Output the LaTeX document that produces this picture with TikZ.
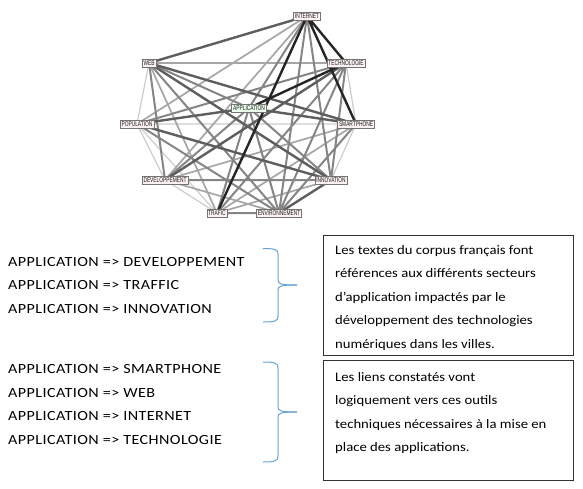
\documentclass[tikz,border=0pt]{standalone}
\usepackage{fontspec}
\setmainfont{Carlito}[FakeStretch=1.13]
\newfontfamily\capsfont{Carlito}[FakeStretch=1.15,LetterSpace=3]
\newfontfamily\narrowfont[FakeStretch=0.7]{Liberation Sans}
\begin{document}
\begin{tikzpicture}[x=1pt,y=-1pt,
  gnode/.style={draw=black!55,line width=0.5pt,fill=red!5,inner sep=1.5pt,
     font=\narrowfont\fontsize{6.9}{7.5}\selectfont,text=black!90},
  anode/.style={gnode,fill=green!7},
  ea/.style={draw=black!20,line width=1.2pt},
  eb/.style={draw=black!35,line width=1.7pt},
  ec/.style={draw=black!48,line width=2pt},
  ed/.style={draw=black!63,line width=2.4pt},
  ee/.style={draw=black!85,line width=2.4pt},
  lab/.style={anchor=base west,inner sep=0pt,font=\fontsize{13}{15}\selectfont},
  clab/.style={lab,font=\capsfont\fontsize{14}{16}\selectfont},
  tbox/.style={draw=black!80,line width=0.8pt},
  brace/.style={draw=blue!45!cyan!70!black!60,line width=1pt}]
\useasboundingbox (0,0) rectangle (583,488);
% coordinates of graph nodes
\coordinate (I) at (307,16);
\coordinate (T) at (346,63);
\coordinate (W) at (149,63);
\coordinate (A) at (249,108);
\coordinate (P) at (137,124);
\coordinate (S) at (356,124);
\coordinate (D) at (165,180);
\coordinate (N) at (331,180);
\coordinate (R) at (217,213);
\coordinate (E) at (279,213);
% edges
\draw[ea] (W)--(P) (T)--(S) (P)--(S) (P)--(D) (P)--(R) (S)--(N) (D)--(R);
\draw[eb] (I)--(P) (I)--(D) (T)--(W) (W)--(R) (S)--(D) (S)--(R) (D)--(E) (N)--(R);
\draw[ec] (I)--(A) (I)--(N) (I)--(E) (T)--(P) (T)--(N) (T)--(R) (T)--(E)
          (W)--(A) (W)--(D) (W)--(E) (A)--(D) (A)--(N) (A)--(R) (A)--(E)
          (P)--(E) (S)--(E) (D)--(N) (R)--(E);
\draw[ed] (I)--(W) (T)--(D) (W)--(S) (W)--(N) (A)--(P) (A)--(S) (P)--(N) (N)--(E);
\draw[ee] (I)--(T) (I)--(S) (I)--(R) (T)--(A);
% nodes
\node[gnode] (nI) at (I) {INTERNET};
\node[gnode] (nT) at (T) {TECHNOLOGIE};
\node[gnode] (nW) at (W) {WEB};
\node[anode] (nA) at (A) {APPLICATION};
\node[gnode] (nP) at (P) {POPULATION};
\node[gnode] (nS) at (S) {SMARTPHONE};
\node[gnode] (nD) at (D) {DEVELOPPEMENT};
\node[gnode] (nN) at (N) {INNOVATION};
\node[gnode] (nR) at (R) {TRAFIC};
\node[gnode] (nE) at (E) {ENVIRONNEMENT};
% left texts
\node[clab] (l1) at (8,266) {APPLICATION => DEVELOPPEMENT};
\node[clab] (l2) at (8,289.5) {APPLICATION => TRAFFIC};
\node[clab] (l3) at (8,313) {APPLICATION => INNOVATION};
\node[clab] (l4) at (8,373) {APPLICATION => SMARTPHONE};
\node[clab] (l5) at (8,397) {APPLICATION => WEB};
\node[clab] (l6) at (8,420) {APPLICATION => INTERNET};
\node[clab] (l7) at (8,444) {APPLICATION => TECHNOLOGIE};
% braces
\draw[brace] (263,248.5) .. controls (275,248.5) and (278,249.5) .. (278,254) -- (278,280)
  .. controls (278,284) and (281,285) .. (297,285);
\draw[brace] (297,285) .. controls (281,285) and (278,286) .. (278,290) -- (278,316.5)
  .. controls (278,321) and (275,322) .. (263,322);
\draw[brace] (263,362) .. controls (275,362) and (278,363) .. (278,368) -- (278,407)
  .. controls (278,411) and (281,412) .. (297,412);
\draw[brace] (297,412) .. controls (281,412) and (278,413) .. (278,417) -- (278,456)
  .. controls (278,461) and (275,462) .. (263,462);
% boxes
\draw[tbox] (323,235) rectangle (573,355);
\draw[tbox] (323,360) rectangle (573,480);
\node[lab] (b1) at (335,254) {Les textes du corpus français font};
\node[lab] (b2) at (335,277.5) {références aux différents secteurs};
\node[lab] (b3) at (335,301) {d’application impactés par le};
\node[lab] (b4) at (335,324.5) {développement des technologies};
\node[lab] (b5) at (335,348) {numériques dans les villes.};
\node[lab] (c1) at (335,381) {Les liens constatés vont};
\node[lab] (c2) at (335,404.5) {logiquement vers ces outils};
\node[lab] (c3) at (335,428) {techniques nécessaires à la mise en};
\node[lab] (c4) at (335,451.5) {place des applications.};
\end{tikzpicture}
\end{document}
